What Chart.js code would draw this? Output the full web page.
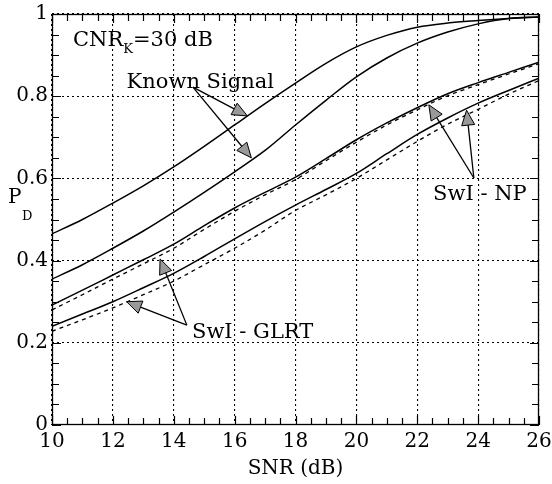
<!DOCTYPE html>
<html>
<head>
<meta charset="utf-8">
<script src="https://cdn.jsdelivr.net/npm/chart.js@4.4.0/dist/chart.umd.min.js"></script>
<style>
html,body{margin:0;padding:0;background:#fff;}
#wrap{width:552px;height:484px;position:relative;}
</style>
</head>
<body>
<div id="wrap"><canvas id="c" width="552" height="484"></canvas></div>
<script>
// ---- data ----
const snr = [10,11,12,13,14,15,16,17,18,19,20,21,22,23,24,25,26];
const knownUpper = [0.465,0.50,0.54,0.582,0.628,0.678,0.73,0.782,0.832,0.88,0.92,0.948,0.968,0.978,0.984,0.989,0.993];
const knownLower = [0.355,0.39,0.43,0.472,0.518,0.566,0.616,0.668,0.73,0.79,0.847,0.893,0.929,0.956,0.976,0.989,0.993];
const swiNP1 = [0.292,0.328,0.365,0.402,0.44,0.485,0.528,0.566,0.603,0.648,0.694,0.735,0.772,0.806,0.833,0.858,0.883];
const swiNP2 = [0.24,0.27,0.30,0.334,0.369,0.41,0.453,0.495,0.535,0.573,0.612,0.66,0.707,0.747,0.783,0.814,0.844];
const swiGLRT1 = [0.28,0.317,0.355,0.392,0.43,0.476,0.52,0.56,0.597,0.643,0.688,0.73,0.767,0.801,0.828,0.854,0.879];
const swiGLRT2 = [0.228,0.256,0.285,0.317,0.35,0.39,0.43,0.474,0.522,0.56,0.600,0.645,0.69,0.732,0.768,0.805,0.838];
const xTicks = [10,12,14,16,18,20,22,24,26];
const yTicks = [0,0.2,0.4,0.6,0.8,1];

const FONT = '"DejaVu Serif", "Liberation Serif", serif';

function pts(ys){ return snr.map((x,i)=>({x:x,y:ys[i]})); }

function ds(ys, dashed){
  return {
    data: pts(ys),
    borderColor:'#000',
    borderWidth: dashed?1.3:1.5,
    borderDash: dashed?[4,4]:[],
    pointRadius:0,
    fill:false,
    tension:0.4,
    cubicInterpolationMode:'monotone'
  };
}

const annotations = {
  texts: [
    {x:10.69, y:0.922, parts:[['CNR',21,0],['K',13,7],['=30 dB',21,0]]},
    {x:12.45, y:0.82, parts:[['Known Signal',21,0]]},
    {x:22.52, y:0.548, parts:[['SwI - NP',21,0]]},
    {x:14.6, y:0.212, parts:[['SwI - GLRT',21,0]]}
  ],
  arrows: [
    {from:[14.63,0.822], to:[16.42,0.752]},
    {from:[14.63,0.822], to:[16.55,0.650]},
    {from:[23.86,0.601], to:[22.38,0.779]},
    {from:[23.86,0.601], to:[23.62,0.766]},
    {from:[14.43,0.243], to:[13.55,0.404]},
    {from:[14.43,0.243], to:[12.45,0.300]}
  ]
};

const decor = {
  id:'decor',
  afterDraw(chart){
    const ctx = chart.ctx, xs = chart.scales.x, ys = chart.scales.y, a = chart.chartArea;
    ctx.save();
    // frame
    ctx.strokeStyle='#000'; ctx.lineWidth=1.3; ctx.setLineDash([]);
    ctx.strokeRect(a.left+0.5, a.top+0.5, a.right-a.left-1, a.bottom-a.top-1);
    // inward ticks
    ctx.lineWidth=1.2;
    ctx.beginPath();
    for(let v=10; v<=26.001; v+=0.5){
      const px = Math.round(xs.getPixelForValue(v))+0.5;
      const major = Math.abs(v-Math.round(v/2)*2)<1e-6;
      const L = major?9:7;
      ctx.moveTo(px,a.bottom); ctx.lineTo(px,a.bottom-L);
      ctx.moveTo(px,a.top); ctx.lineTo(px,a.top+L);
    }
    for(let k=0; k<=20; k++){
      const v=k*0.05;
      const py = Math.round(ys.getPixelForValue(v))+0.5;
      const major = k%4===0;
      const L = major?9:7;
      ctx.moveTo(a.left,py); ctx.lineTo(a.left+L,py);
      ctx.moveTo(a.right,py); ctx.lineTo(a.right-L,py);
    }
    ctx.stroke();
    // y label P_D
    ctx.fillStyle='#000';
    ctx.textBaseline='alphabetic';
    ctx.textAlign='left';
    ctx.font='20px '+FONT;
    ctx.fillText('P', 8, 203);
    ctx.font='13px '+FONT;
    ctx.fillText('D', 22, 220);
    // annotation texts
    annotations.texts.forEach(t=>{
      let px = xs.getPixelForValue(t.x), py = ys.getPixelForValue(t.y);
      t.parts.forEach(p=>{
        ctx.font = p[1]+'px '+FONT;
        ctx.fillText(p[0], px, py+p[2]);
        px += ctx.measureText(p[0]).width;
      });
    });
    // arrows
    annotations.arrows.forEach(ar=>{
      const x1=xs.getPixelForValue(ar.from[0]), y1=ys.getPixelForValue(ar.from[1]);
      const x2=xs.getPixelForValue(ar.to[0]), y2=ys.getPixelForValue(ar.to[1]);
      const ang=Math.atan2(y2-y1,x2-x1);
      const HL=15, HW=6.5;
      const bx=x2-HL*Math.cos(ang), by=y2-HL*Math.sin(ang);
      ctx.lineWidth=1.3; ctx.strokeStyle='#000';
      ctx.beginPath(); ctx.moveTo(x1,y1); ctx.lineTo(bx,by); ctx.stroke();
      ctx.beginPath();
      ctx.moveTo(x2,y2);
      ctx.lineTo(bx+HW*Math.sin(ang), by-HW*Math.cos(ang));
      ctx.lineTo(bx-HW*Math.sin(ang), by+HW*Math.cos(ang));
      ctx.closePath();
      ctx.fillStyle='#999'; ctx.fill();
      ctx.lineWidth=1; ctx.stroke();
    });
    ctx.restore();
  }
};

new Chart(document.getElementById('c'), {
  type:'line',
  data:{ datasets:[
    ds(knownUpper,false), ds(knownLower,false),
    ds(swiNP1,false), ds(swiNP2,false),
    ds(swiGLRT1,true), ds(swiGLRT2,true)
  ]},
  options:{
    responsive:false, animation:false, devicePixelRatio:1,
    layout:{padding:{top:14,right:13,left:0,bottom:0}},
    plugins:{legend:{display:false}, tooltip:{enabled:false}},
    scales:{
      x:{
        type:'linear', min:10, max:26,
        afterBuildTicks(s){ s.ticks = xTicks.map(v=>({value:v})); },
        afterFit(s){ s.height = 59; s.paddingLeft = 0; s.paddingRight = 0; },
        grid:{color:'#000', lineWidth:1.1, drawTicks:false},
        border:{display:false, dash:[2,3]},
        ticks:{color:'#000', font:{family:FONT, size:20}, padding:5, maxRotation:0},
        title:{display:true, text:'SNR (dB)', color:'#000', font:{family:FONT, size:20}, padding:{top:0,bottom:3}}
      },
      y:{
        type:'linear', min:0, max:1,
        afterBuildTicks(s){ s.ticks = yTicks.map(v=>({value:v})); },
        afterFit(s){ s.width = 52; s.paddingTop = 0; s.paddingBottom = 0; },
        grid:{color:'#000', lineWidth:1.1, drawTicks:false},
        border:{display:false, dash:[2,3]},
        ticks:{color:'#000', font:{family:FONT, size:20}, padding:4,
               callback:(v)=>String(Math.round(v*10)/10)}
      }
    }
  },
  plugins:[decor]
});
</script>
</body>
</html>
